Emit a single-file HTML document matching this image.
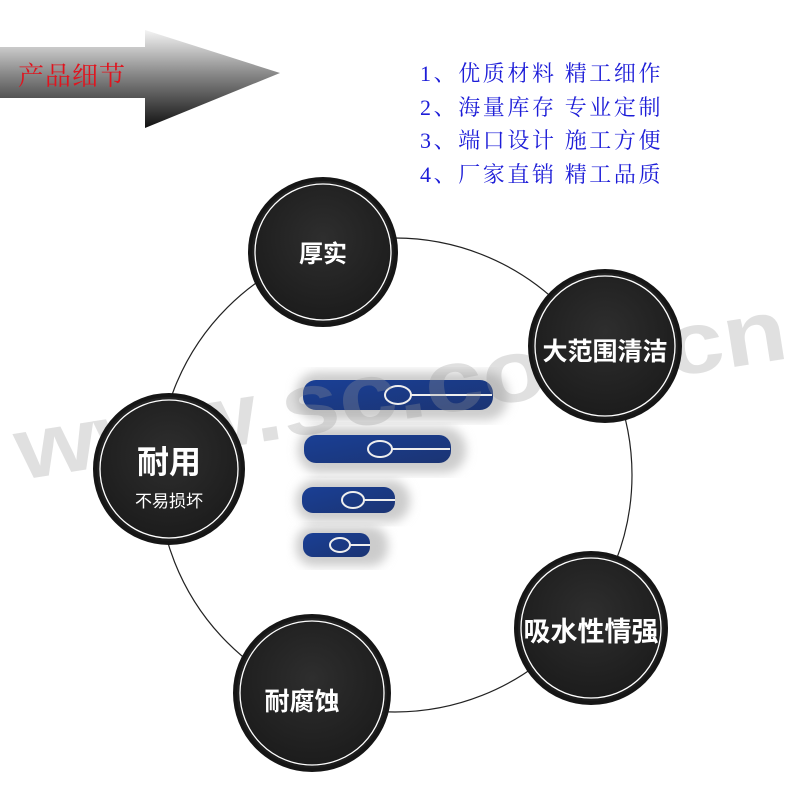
<!DOCTYPE html>
<html><head><meta charset="utf-8"><style>
body{margin:0;width:800px;height:800px;background:#fff;overflow:hidden;position:relative;font-family:"Liberation Sans","Noto Sans CJK SC",sans-serif}
.t{position:absolute;font-family:"Liberation Sans","Noto Sans CJK SC",sans-serif;}
</style></head><body>
<svg width="800" height="800" style="position:absolute;left:0;top:0">
<defs>
<linearGradient id="ar" x1="0" y1="0" x2="0" y2="1">
<stop offset="0" stop-color="#f4f4f4"/><stop offset="0.45" stop-color="#888"/><stop offset="1" stop-color="#111"/>
</linearGradient>
<linearGradient id="bl" x1="0" y1="0" x2="1" y2="1">
<stop offset="0" stop-color="#1a3f95"/><stop offset="1" stop-color="#1b3473"/>
</linearGradient>
<radialGradient id="cg" cx="0.5" cy="0.4" r="0.6"><stop offset="0" stop-color="#2e2e2e"/><stop offset="1" stop-color="#1c1c1c"/></radialGradient>
<filter id="bf"><feGaussianBlur stdDeviation="5"/></filter>
</defs>
<polygon points="0,47 145,47 145,30 280,73 145,128 145,98 0,98" fill="url(#ar)"/>
<circle cx="395" cy="475" r="237" fill="none" stroke="#222" stroke-width="1.2"/>
<g>
<rect x="296" y="372" width="212" height="48" rx="22" fill="#ccc" filter="url(#bf)"/>
<rect x="298" y="427" width="168" height="46" rx="22" fill="#ccc" filter="url(#bf)"/>
<rect x="296" y="480" width="114" height="42" rx="20" fill="#ccc" filter="url(#bf)"/>
<rect x="296" y="526" width="92" height="40" rx="18" fill="#ccc" filter="url(#bf)"/>
<rect x="303" y="380" width="190" height="30" rx="13" fill="url(#bl)"/>
<rect x="304" y="435" width="147" height="28" rx="12" fill="url(#bl)"/>
<rect x="302" y="487" width="93" height="26" rx="11" fill="url(#bl)"/>
<rect x="303" y="533" width="67" height="24" rx="10" fill="url(#bl)"/>
<g fill="none" stroke="#eee" stroke-width="2">
<ellipse cx="398" cy="395" rx="13" ry="9"/><line x1="411" y1="395" x2="492" y2="395"/>
<ellipse cx="380" cy="449" rx="12" ry="8"/><line x1="392" y1="449" x2="450" y2="449"/>
<ellipse cx="353" cy="500" rx="11" ry="8"/><line x1="364" y1="500" x2="395" y2="500"/>
<ellipse cx="340" cy="545" rx="10" ry="7"/><line x1="350" y1="545" x2="370" y2="545"/>
</g>
</g>
<text x="20" y="480" transform="rotate(-9 20 480)" font-family="Liberation Sans" font-weight="bold" font-size="88" fill="#999" fill-opacity="0.3" textLength="780" lengthAdjust="spacingAndGlyphs">www.sc.com.cn</text>
<g stroke="#fff" stroke-width="1.3" fill="url(#cg)">
<circle cx="323" cy="252" r="73" stroke="#161616" stroke-width="4"/><circle cx="323" cy="252" r="68"/>
<circle cx="605" cy="346" r="75" stroke="#161616" stroke-width="4"/><circle cx="605" cy="346" r="70"/>
<circle cx="169" cy="469" r="74" stroke="#161616" stroke-width="4"/><circle cx="169" cy="469" r="69"/>
<circle cx="591" cy="628" r="75" stroke="#161616" stroke-width="4"/><circle cx="591" cy="628" r="70"/>
<circle cx="312" cy="693" r="77" stroke="#161616" stroke-width="4"/><circle cx="312" cy="693" r="72"/>
</g>
</svg>
<div class="t" style="left:18px;top:56px;color:#e0141e;font-size:26px;font-family:'Liberation Serif','Noto Serif CJK SC',serif;letter-spacing:1px">产品细节</div>
<div class="t" style="left:420px;top:57px;color:#1d1dd8;font-size:22px;line-height:33.5px;letter-spacing:2.6px;font-family:'Liberation Serif','Noto Serif CJK SC',serif;white-space:nowrap">1、优质材料 精工细作<br>2、海量库存 专业定制<br>3、端口设计 施工方便<br>4、厂家直销 精工品质</div>
<div class="t" style="left:253px;top:234px;width:140px;text-align:center;color:#fff;font-weight:bold;font-size:24px">厚实</div>
<div class="t" style="left:528px;top:332px;width:154px;text-align:center;color:#fff;font-weight:bold;font-size:25px">大范围清洁</div>
<div class="t" style="left:99px;top:437px;width:140px;text-align:center;color:#fff;font-weight:bold;font-size:32px">耐用</div>
<div class="t" style="left:99px;top:487px;width:140px;text-align:center;color:#fff;font-size:17px">不易损坏</div>
<div class="t" style="left:514px;top:610px;width:154px;text-align:center;color:#fff;font-weight:bold;font-size:27px">吸水性情强</div>
<div class="t" style="left:232px;top:682px;width:140px;text-align:center;color:#fff;font-weight:bold;font-size:25px">耐腐蚀</div>
</body></html>
